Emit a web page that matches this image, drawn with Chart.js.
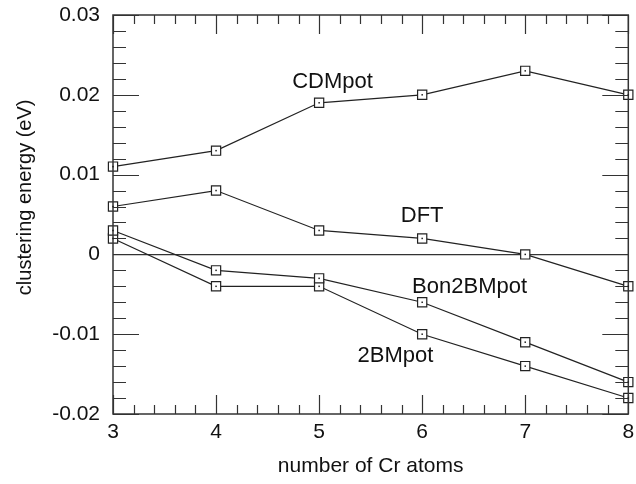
<!DOCTYPE html>
<html>
<head>
<meta charset="utf-8">
<script src="https://cdn.jsdelivr.net/npm/chart.js@4.4.1/dist/chart.umd.min.js"></script>
<style>
  html, body { margin: 0; padding: 0; background: #fff; }
  #wrap { width: 636px; height: 484px; }
</style>
</head>
<body>
<div id="wrap"><canvas id="myChart" width="636" height="484"></canvas></div>
<script>
// number of Cr atoms
var atoms = [3, 4, 5, 6, 7, 8];

// clustering energy (eV)
var cdmpot    = [0.011, 0.013, 0.019, 0.020, 0.023, 0.020];
var dft       = [0.006, 0.008, 0.003, 0.002, 0.000, -0.004];
var bon2bmpot = [0.003, -0.002, -0.003, -0.006, -0.011, -0.016];
var twobmpot  = [0.002, -0.004, -0.004, -0.010, -0.014, -0.018];

var seriesNames = ['CDMpot', 'DFT', 'Bon2BMpot', '2BMpot'];
var yTitle = 'clustering energy (eV)';

// label anchors in data units (centre x, baseline y)
var labelX = [5.13, 6.0, 6.46, 5.74];
var labelY = [0.0209, 0.0041, -0.0048, -0.0135];

var FONT = '"Liberation Sans", Arial, Helvetica, sans-serif';
var INK = '#222';

function toPoints(vals) {
    return atoms.map(function (a, i) { return { x: a, y: vals[i] }; });
}

function isWhole(v, step) {
    return Math.abs(v / step - Math.round(v / step)) < 1e-6;
}

// inward tick marks, frame, centre dots and the text labels
var decor = {
    id: 'decor',
    afterDraw: function (chart) {
        var ctx = chart.ctx;
        var a = chart.chartArea;
        var xs = chart.scales.x, ys = chart.scales.y;
        ctx.save();
        ctx.strokeStyle = '#333';
        ctx.lineWidth = 1.2;
        ctx.beginPath();
        xs.ticks.forEach(function (t) {
            var px = Math.round(xs.getPixelForValue(t.value)) + 0.5;
            var len = isWhole(t.value, 1) ? 19 : 9;
            ctx.moveTo(px, a.bottom); ctx.lineTo(px, a.bottom - len);
            ctx.moveTo(px, a.top); ctx.lineTo(px, a.top + len);
        });
        ys.ticks.forEach(function (t) {
            var py = Math.round(ys.getPixelForValue(t.value)) + 0.5;
            var len = isWhole(t.value, 0.01) ? 26 : 13;
            ctx.moveTo(a.left, py); ctx.lineTo(a.left + len, py);
            ctx.moveTo(a.right, py); ctx.lineTo(a.right - len, py);
        });
        ctx.stroke();
        ctx.lineWidth = 1.5;
        ctx.strokeRect(a.left, a.top, a.right - a.left, a.bottom - a.top);

        // small dot in each marker
        ctx.fillStyle = INK;
        chart.data.datasets.forEach(function (ds, i) {
            chart.getDatasetMeta(i).data.forEach(function (pt) {
                ctx.fillRect(pt.x - 0.75, pt.y - 0.75, 1.5, 1.5);
            });
        });

        ctx.fillStyle = '#111';
        ctx.font = '22px ' + FONT;
        ctx.textAlign = 'center';
        ctx.textBaseline = 'alphabetic';
        seriesNames.forEach(function (name, i) {
            ctx.fillText(name, xs.getPixelForValue(labelX[i]), ys.getPixelForValue(labelY[i]));
        });

        // y axis title, sitting a little above the plot centre as in the original
        ctx.font = '20px ' + FONT;
        ctx.textBaseline = 'middle';
        ctx.translate(25, ys.getPixelForValue(0.00715));
        ctx.rotate(-Math.PI / 2);
        ctx.fillText(yTitle, 0, 0);
        ctx.restore();
    }
};

function makeSet(name, vals) {
    return {
        label: name,
        data: toPoints(vals),
        borderColor: INK,
        borderWidth: 1.2,
        backgroundColor: '#fff',
        pointStyle: 'rect',
        pointRadius: 6.5,
        pointHoverRadius: 6.5,
        pointBorderColor: INK,
        pointBackgroundColor: '#fff',
        pointBorderWidth: 1.2,
        tension: 0,
        clip: false
    };
}

var ctx = document.getElementById('myChart').getContext('2d');
var myChart = new Chart(ctx, {
    type: 'line',
    data: {
        datasets: [
            makeSet(seriesNames[0], cdmpot),
            makeSet(seriesNames[1], dft),
            makeSet(seriesNames[2], bon2bmpot),
            makeSet(seriesNames[3], twobmpot)
        ]
    },
    options: {
        responsive: false,
        animation: false,
        events: [],
        layout: { padding: { left: 0, right: 3, top: 15, bottom: 0 } },
        plugins: {
            legend: { display: false },
            tooltip: { enabled: false }
        },
        scales: {
            x: {
                type: 'linear',
                min: 3,
                max: 8,
                grid: { display: false, drawTicks: false },
                border: { display: false },
                ticks: {
                    stepSize: 0.2,
                    autoSkip: false,
                    maxRotation: 0,
                    padding: 6,
                    color: '#111',
                    font: { family: FONT, size: 21 },
                    callback: function (v) { return isWhole(v, 1) ? String(Math.round(v)) : ''; }
                },
                title: {
                    display: true,
                    text: 'number of Cr atoms',
                    color: '#111',
                    font: { family: FONT, size: 21 },
                    padding: { top: 0, bottom: 5 }
                },
                afterFit: function (s) { s.height = 70; s.paddingLeft = 0; s.paddingRight = 0; }
            },
            y: {
                type: 'linear',
                min: -0.02,
                max: 0.03,
                grid: {
                    drawTicks: false,
                    lineWidth: 1.2,
                    color: function (c) { return c.tick && Math.abs(c.tick.value) < 1e-9 ? '#333' : 'rgba(0,0,0,0)'; }
                },
                border: { display: false },
                ticks: {
                    stepSize: 0.002,
                    autoSkip: false,
                    padding: 13,
                    color: '#111',
                    font: { family: FONT, size: 21 },
                    callback: function (v) {
                        var r = Math.round(v * 1000);
                        if (r % 10 !== 0) return '';
                        return r === 0 ? '0' : (r / 1000).toFixed(2);
                    }
                },
                title: { display: false },
                afterFit: function (s) { s.width = 113; s.paddingTop = 0; s.paddingBottom = 0; }
            }
        }
    },
    plugins: [decor]
});
</script>
</body>
</html>
